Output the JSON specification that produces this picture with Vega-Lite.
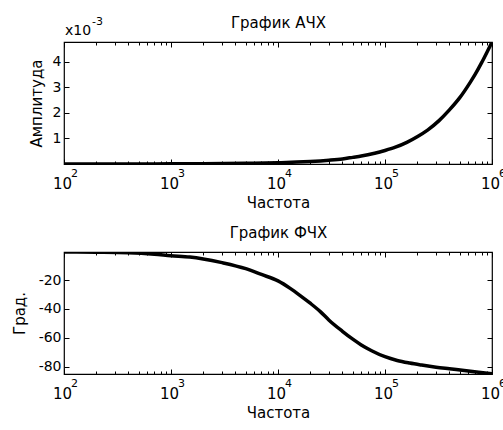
{
  "$schema": "https://vega.github.io/schema/vega-lite/v6.json",
  "padding": {"left": 11, "top": 14, "right": 0, "bottom": 0},
  "background": "white",
  "spacing": 13,
  "datasets": {
    "amp": [
      {"f": 100, "a": 0.0000005},
      {"f": 200, "a": 0.000001},
      {"f": 500, "a": 0.0000025},
      {"f": 1000, "a": 0.000005},
      {"f": 2000, "a": 0.00001},
      {"f": 5000, "a": 0.000025},
      {"f": 10000, "a": 0.00005},
      {"f": 15000, "a": 0.000075},
      {"f": 20000, "a": 0.0001},
      {"f": 30000, "a": 0.00015},
      {"f": 40000, "a": 0.0002},
      {"f": 50000, "a": 0.00026},
      {"f": 60000, "a": 0.00031},
      {"f": 80000, "a": 0.00042},
      {"f": 100000, "a": 0.00053},
      {"f": 125000, "a": 0.00066},
      {"f": 160000, "a": 0.00085},
      {"f": 200000, "a": 0.00107},
      {"f": 250000, "a": 0.00133},
      {"f": 320000, "a": 0.0017},
      {"f": 400000, "a": 0.00212},
      {"f": 500000, "a": 0.0026},
      {"f": 630000, "a": 0.00322},
      {"f": 700000, "a": 0.00353},
      {"f": 800000, "a": 0.00397},
      {"f": 900000, "a": 0.00439},
      {"f": 1000000, "a": 0.00478}
    ],
    "phase": [
      {"f": 100, "p": -0.4},
      {"f": 200, "p": -0.6},
      {"f": 400, "p": -1.0},
      {"f": 700, "p": -2.0},
      {"f": 1000, "p": -3.0},
      {"f": 1500, "p": -3.9},
      {"f": 2000, "p": -5.2},
      {"f": 3000, "p": -7.8},
      {"f": 5000, "p": -12.0},
      {"f": 7000, "p": -16.0},
      {"f": 10000, "p": -20.5},
      {"f": 13000, "p": -25.7},
      {"f": 16000, "p": -30.5},
      {"f": 20000, "p": -36.0},
      {"f": 25000, "p": -42.0},
      {"f": 30000, "p": -47.8},
      {"f": 40000, "p": -55.5},
      {"f": 50000, "p": -61.0},
      {"f": 60000, "p": -65.0},
      {"f": 75000, "p": -69.0},
      {"f": 100000, "p": -73.2},
      {"f": 130000, "p": -75.8},
      {"f": 170000, "p": -77.6},
      {"f": 220000, "p": -79.0},
      {"f": 300000, "p": -80.5},
      {"f": 400000, "p": -81.6},
      {"f": 550000, "p": -82.8},
      {"f": 750000, "p": -84.0},
      {"f": 1000000, "p": -85.0}
    ]
  },
  "config": {
    "font": "DejaVu Sans",
    "view": {"stroke": "black", "strokeWidth": 1.2},
    "axis": {
      "grid": false,
      "domain": false,
      "tickColor": "black",
      "tickWidth": 1,
      "labelColor": "black",
      "titleColor": "black",
      "labelFont": "DejaVu Sans",
      "titleFont": "DejaVu Sans",
      "labelFontSize": 14,
      "titleFontSize": 15,
      "titleFontWeight": "normal",
      "labelFlush": false,
      "labelOverlap": false
    }
  },
  "vconcat": [
    {
      "width": 428,
      "height": 122,
      "data": {"name": "amp"},
      "layer": [
        {
          "mark": {"type": "line", "color": "black", "strokeWidth": 3.5, "interpolate": "monotone", "clip": true},
          "encoding": {
            "x": {
              "field": "f", "type": "quantitative",
              "scale": {"type": "log", "domain": [100, 1000000], "nice": false},
              "axis": {
                "orient": "bottom", "title": "Частота", "titlePadding": 4,
                "values": [100, 1000, 10000, 100000, 1000000],
                "labelExpr": "'10'", "labelFontSize": 15, "labelOffset": -2,
                "tickSize": -5, "labelPadding": 17
              }
            },
            "y": {
              "field": "a", "type": "quantitative",
              "scale": {"domain": [0, 0.00478], "nice": false, "zero": false},
              "axis": {
                "orient": "left", "title": "Амплитуда", "titlePadding": 8,
                "values": [0.001, 0.002, 0.003, 0.004],
                "labelExpr": "format(datum.value * 1000, '.0f')",
                "tickSize": -5, "labelPadding": 8
              }
            }
          }
        },
        {
          "mark": {"type": "line", "strokeOpacity": 0},
          "encoding": {
            "x": {
              "field": "f", "type": "quantitative",
              "scale": {"type": "log", "domain": [100, 1000000], "nice": false},
              "axis": {
                "orient": "bottom", "title": null,
                "values": [100, 1000, 10000, 100000, 1000000],
                "labelExpr": "['2','3','4','5','6'][indexof([100,1000,10000,100000,1000000], datum.value)]",
                "labelFontSize": 11, "labelOffset": 10,
                "tickSize": -5, "tickOpacity": 0, "labelPadding": 8
              }
            },
            "y": {"field": "a", "type": "quantitative", "axis": null}
          }
        },
        {
          "mark": {"type": "line", "strokeOpacity": 0},
          "encoding": {
            "x": {
              "field": "f", "type": "quantitative",
              "scale": {"type": "log", "domain": [100, 1000000], "nice": false},
              "axis": {
                "orient": "bottom", "title": null, "labels": false, "tickSize": -3,
                "values": [200,300,400,500,600,700,800,900,2000,3000,4000,5000,6000,7000,8000,9000,20000,30000,40000,50000,60000,70000,80000,90000,200000,300000,400000,500000,600000,700000,800000,900000]
              }
            },
            "y": {"field": "a", "type": "quantitative", "axis": null}
          }
        },
        {
          "mark": {"type": "line", "strokeOpacity": 0},
          "encoding": {
            "x": {
              "field": "f", "type": "quantitative",
              "scale": {"type": "log", "domain": [100, 1000000], "nice": false},
              "axis": {
                "orient": "top", "title": "График АЧХ", "titlePadding": 11, "labels": false, "tickSize": -5,
                "values": [100, 1000, 10000, 100000, 1000000]
              }
            },
            "y": {
              "field": "a", "type": "quantitative",
              "axis": {"orient": "right", "title": null, "labels": false, "values": [0.001, 0.002, 0.003, 0.004], "tickSize": -5}
            }
          }
        },
        {
          "mark": {"type": "line", "strokeOpacity": 0},
          "encoding": {
            "x": {
              "field": "f", "type": "quantitative",
              "scale": {"type": "log", "domain": [100, 1000000], "nice": false},
              "axis": {
                "orient": "top", "title": null, "labels": false, "tickSize": -3,
                "values": [200,300,400,500,600,700,800,900,2000,3000,4000,5000,6000,7000,8000,9000,20000,30000,40000,50000,60000,70000,80000,90000,200000,300000,400000,500000,600000,700000,800000,900000]
              }
            },
            "y": {"field": "a", "type": "quantitative", "axis": null}
          }
        },
        {
          "data": {"values": [{"label": "x10"}]},
          "mark": {"type": "text", "align": "left", "baseline": "alphabetic", "dx": 1, "dy": -7, "fontSize": 14, "font": "DejaVu Sans", "color": "black"},
          "encoding": {
            "text": {"field": "label"},
            "x": {"datum": 100, "type": "quantitative", "axis": null},
            "y": {"datum": 0.00478, "type": "quantitative", "axis": null}
          }
        },
        {
          "data": {"values": [{"label": "-3"}]},
          "mark": {"type": "text", "align": "left", "baseline": "alphabetic", "dx": 28, "dy": -17, "fontSize": 11, "font": "DejaVu Sans", "color": "black"},
          "encoding": {
            "text": {"field": "label"},
            "x": {"datum": 100, "type": "quantitative", "axis": null},
            "y": {"datum": 0.00478, "type": "quantitative", "axis": null}
          }
        }
      ],
      "resolve": {"axis": {"x": "independent", "y": "independent"}}
    },
    {
      "width": 428,
      "height": 122,
      "data": {"name": "phase"},
      "layer": [
        {
          "mark": {"type": "line", "color": "black", "strokeWidth": 3.5, "interpolate": "monotone", "clip": true},
          "encoding": {
            "x": {
              "field": "f", "type": "quantitative",
              "scale": {"type": "log", "domain": [100, 1000000], "nice": false},
              "axis": {
                "orient": "bottom", "title": "Частота", "titlePadding": 4,
                "values": [100, 1000, 10000, 100000, 1000000],
                "labelExpr": "'10'", "labelFontSize": 15, "labelOffset": -2,
                "tickSize": -5, "labelPadding": 17
              }
            },
            "y": {
              "field": "p", "type": "quantitative",
              "scale": {"domain": [-85.2, -0.4], "nice": false, "zero": false},
              "axis": {
                "orient": "left", "title": "Град.", "titlePadding": 11,
                "values": [-80, -60, -40, -20],
                "labelExpr": "'-' + abs(datum.value)",
                "tickSize": -5, "labelPadding": 8
              }
            }
          }
        },
        {
          "mark": {"type": "line", "strokeOpacity": 0},
          "encoding": {
            "x": {
              "field": "f", "type": "quantitative",
              "scale": {"type": "log", "domain": [100, 1000000], "nice": false},
              "axis": {
                "orient": "bottom", "title": null,
                "values": [100, 1000, 10000, 100000, 1000000],
                "labelExpr": "['2','3','4','5','6'][indexof([100,1000,10000,100000,1000000], datum.value)]",
                "labelFontSize": 11, "labelOffset": 10,
                "tickSize": -5, "tickOpacity": 0, "labelPadding": 8
              }
            },
            "y": {"field": "p", "type": "quantitative", "axis": null}
          }
        },
        {
          "mark": {"type": "line", "strokeOpacity": 0},
          "encoding": {
            "x": {
              "field": "f", "type": "quantitative",
              "scale": {"type": "log", "domain": [100, 1000000], "nice": false},
              "axis": {
                "orient": "bottom", "title": null, "labels": false, "tickSize": -3,
                "values": [200,300,400,500,600,700,800,900,2000,3000,4000,5000,6000,7000,8000,9000,20000,30000,40000,50000,60000,70000,80000,90000,200000,300000,400000,500000,600000,700000,800000,900000]
              }
            },
            "y": {"field": "p", "type": "quantitative", "axis": null}
          }
        },
        {
          "mark": {"type": "line", "strokeOpacity": 0},
          "encoding": {
            "x": {
              "field": "f", "type": "quantitative",
              "scale": {"type": "log", "domain": [100, 1000000], "nice": false},
              "axis": {
                "orient": "top", "title": "График ФЧХ", "titlePadding": 11, "labels": false, "tickSize": -5,
                "values": [100, 1000, 10000, 100000, 1000000]
              }
            },
            "y": {
              "field": "p", "type": "quantitative",
              "axis": {"orient": "right", "title": null, "labels": false, "values": [-80, -60, -40, -20], "tickSize": -5}
            }
          }
        },
        {
          "mark": {"type": "line", "strokeOpacity": 0},
          "encoding": {
            "x": {
              "field": "f", "type": "quantitative",
              "scale": {"type": "log", "domain": [100, 1000000], "nice": false},
              "axis": {
                "orient": "top", "title": null, "labels": false, "tickSize": -3,
                "values": [200,300,400,500,600,700,800,900,2000,3000,4000,5000,6000,7000,8000,9000,20000,30000,40000,50000,60000,70000,80000,90000,200000,300000,400000,500000,600000,700000,800000,900000]
              }
            },
            "y": {"field": "p", "type": "quantitative", "axis": null}
          }
        }
      ],
      "resolve": {"axis": {"x": "independent", "y": "independent"}}
    }
  ]
}
